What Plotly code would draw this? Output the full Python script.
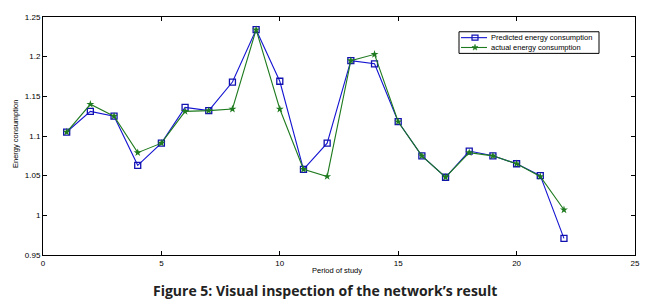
import math
import plotly.graph_objects as go

periods = list(range(1, 23))
predicted = [1.105, 1.131, 1.125, 1.063, 1.091, 1.136, 1.132, 1.168, 1.234, 1.169, 1.058,
             1.091, 1.195, 1.191, 1.118, 1.075, 1.048, 1.081, 1.075, 1.065, 1.050, 0.971]
actual = [1.105, 1.140, 1.125, 1.079, 1.091, 1.131, 1.132, 1.134, 1.234, 1.134, 1.058,
          1.049, 1.195, 1.203, 1.118, 1.075, 1.048, 1.079, 1.075, 1.065, 1.049, 1.007]
x_ticks = [0, 5, 10, 15, 20, 25]
y_ticks = [0.95, 1.0, 1.05, 1.1, 1.15, 1.2, 1.25]
y_tick_labels = ["0.95", "1", "1.05", "1.1", "1.15", "1.2", "1.25"]
series_names = ["Predicted energy consumption", "actual energy consumption"]

BLUE = "#1414d2"
GREEN = "#1e7a1e"

# page body has an 8px margin, so the figure is offset by 8px
OFF = 8
W, H = 649 - OFF, 304 - OFF
L, R, T, B = 43 - OFF, 14, 13 - OFF, 49
PW, PH = W - L - R, H - T - B


def px(xw):  # window pixel -> paper
    return (xw - OFF - L) / PW


def py(yw):
    return (H - B - (yw - OFF)) / PH


fig = go.Figure()
fig.add_trace(go.Scatter(
    x=periods, y=predicted, mode="lines+markers", name=series_names[0],
    line=dict(color=BLUE, width=1.1),
    marker=dict(symbol="square-open", size=6, color="#1010b0", line=dict(width=1.3))))
fig.add_trace(go.Scatter(
    x=periods, y=actual, mode="lines+markers", name=series_names[1],
    line=dict(color=GREEN, width=1.1),
    marker=dict(symbol="star", size=6, color=GREEN)))

axis_common = dict(showgrid=False, zeroline=False, showline=True, linecolor="black",
                   linewidth=1, mirror="ticks", ticks="inside", ticklen=4,
                   tickcolor="black", tickfont=dict(family="Liberation Sans", size=8, color="black"))
fig.update_xaxes(range=[0, 25], tickvals=x_ticks, **axis_common)
fig.update_yaxes(range=[0.95, 1.25], tickvals=y_ticks, ticktext=y_tick_labels, **axis_common)

# axis titles
fig.add_annotation(text="Period of study", xref="paper", yref="paper",
                   x=px(337), y=py(271), xanchor="center", yanchor="middle", showarrow=False,
                   font=dict(family="Liberation Sans", size=7.5, color="black"))
fig.add_annotation(text="Energy consumption", xref="paper", yref="paper",
                   x=px(15), y=py(132), xanchor="center", yanchor="middle",
                   showarrow=False, textangle=-90,
                   font=dict(family="Liberation Sans", size=7.5, color="black"))

# caption
fig.add_annotation(text="<b>Figure 5: Visual inspection of the network’s result</b>",
                   xref="paper", yref="paper", x=px(325), y=py(291),
                   xanchor="center", yanchor="middle",
                   showarrow=False, font=dict(family="Open Sans", size=14, color="#222"))

# manual legend
shapes = [dict(type="rect", xref="paper", yref="paper",
               x0=px(459), x1=px(599), y0=py(50), y1=py(28),
               line=dict(color="black", width=1), fillcolor="white", layer="above")]
rows = [34, 44]
colors = [BLUE, GREEN]
for row, col in zip(rows, colors):
    shapes.append(dict(type="line", xref="paper", yref="paper",
                       x0=px(461), x1=px(487), y0=py(row), y1=py(row),
                       line=dict(color=col, width=1.1), layer="above"))
shapes.append(dict(type="rect", xref="paper", yref="paper", xsizemode="pixel", ysizemode="pixel",
                   xanchor=px(475), yanchor=py(rows[0]), x0=-3, x1=3, y0=-2.5, y1=2.5,
                   line=dict(color="#1010b0", width=1.2), fillcolor="rgba(0,0,0,0)", layer="above"))
pts = []
for k in range(10):
    r = 3.2 if k % 2 == 0 else 1.3
    a = math.pi / 2 + k * math.pi / 5
    pts.append((r * math.cos(a), r * math.sin(a)))
path = "M " + " L ".join(f"{x:.2f},{y:.2f}" for x, y in pts) + " Z"
shapes.append(dict(type="path", xref="paper", yref="paper", xsizemode="pixel", ysizemode="pixel",
                   xanchor=px(475), yanchor=py(rows[1]), path=path,
                   line=dict(color=GREEN, width=0.5), fillcolor=GREEN, layer="above"))
for row, name in zip(rows, series_names):
    fig.add_annotation(text=name, xref="paper", yref="paper", x=px(489), y=py(row),
                       xanchor="left", yanchor="middle", showarrow=False,
                       font=dict(family="Liberation Sans", size=7.5, color="black"))

fig.update_layout(
    width=W, height=H,
    margin=dict(l=L, r=R, t=T, b=B),
    paper_bgcolor="white", plot_bgcolor="white",
    showlegend=False,
    shapes=shapes,
)

fig.write_html("out.html")
